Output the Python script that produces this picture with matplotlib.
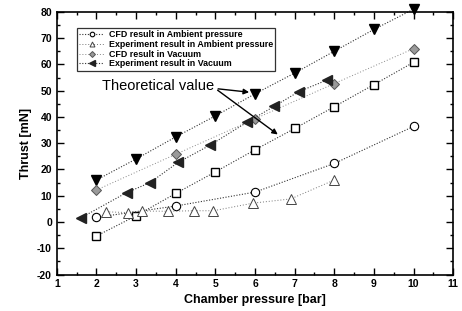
import matplotlib
matplotlib.use('Agg')
import matplotlib.pyplot as plt
from matplotlib.ticker import MultipleLocator

# Chamber pressure [bar] and thrust [mN]
p_theory = [2, 3, 4, 5, 6, 7, 8, 9, 10]
thr_theory_vac = [16, 24, 32.4, 40.4, 48.8, 56.7, 65.0, 73.3, 81.0]
thr_theory_amb = [-5.3, 2.4, 10.9, 19.1, 27.5, 35.6, 43.9, 52.3, 60.8]

p_cfd_amb = [2, 4, 6, 8, 10]
thr_cfd_amb = [1.8, 6.1, 11.4, 22.3, 36.4]

p_exp_amb = [2.25, 2.8, 3.15, 3.8, 4.45, 4.95, 5.95, 6.9, 8.0]
thr_exp_amb = [3.9, 3.6, 4.2, 4.1, 4.3, 4.3, 7.2, 8.8, 16.0]

p_cfd_vac = [2, 4, 6, 8, 10]
thr_cfd_vac = [12.2, 25.8, 39.3, 52.7, 66.0]

p_exp_vac = [1.62, 2.76, 3.35, 4.06, 4.87, 5.8, 6.48, 7.1, 7.81]
thr_exp_vac = [1.7, 11.2, 15.0, 22.7, 29.3, 38.0, 44.0, 49.6, 54.0]

plt.rcParams['font.family'] = ['Liberation Sans', 'DejaVu Sans']
plt.rcParams['axes.unicode_minus'] = False

fig = plt.figure(figsize=(4.62, 3.11), dpi=100)
ax = fig.add_axes([0.123, 0.117, 0.858, 0.845])

line_kw = dict(linestyle=(0, (1, 1.5)), linewidth=0.8, color='#333333')

ax.plot(p_theory, thr_theory_vac, marker='v', markersize=7, markerfacecolor='black',
        markeredgecolor='black', clip_on=False, **line_kw)
ax.plot(p_theory, thr_theory_amb, marker='s', markersize=5.5, markerfacecolor='white',
        markeredgecolor='black', markeredgewidth=1.0, **line_kw)
ax.plot(p_cfd_amb, thr_cfd_amb, marker='o', markersize=6, markerfacecolor='white',
        markeredgecolor='black', markeredgewidth=0.8, label='CFD result in Ambient pressure', **line_kw)
ax.plot(p_exp_amb, thr_exp_amb, marker='^', markersize=6.5, markerfacecolor='white',
        markeredgecolor='#444444', markeredgewidth=0.7, label='Experiment result in Ambient pressure',
        linestyle=(0, (1, 2)), linewidth=0.7, color='#777777')
ax.plot(p_cfd_vac, thr_cfd_vac, marker='D', markersize=5.5, markerfacecolor='#9a9a9a',
        markeredgecolor='#555555', markeredgewidth=0.7, label='CFD result in Vacuum',
        linestyle=(0, (1, 2)), linewidth=0.7, color='#888888')
ax.plot(p_exp_vac, thr_exp_vac, marker='<', markersize=7, markerfacecolor='#222222',
        markeredgecolor='#222222', label='Experiment result in Vacuum', **line_kw)

ax.set_xlim(1, 11)
ax.set_ylim(-20, 80)
ax.xaxis.set_major_locator(MultipleLocator(1))
ax.xaxis.set_minor_locator(MultipleLocator(0.5))
ax.yaxis.set_major_locator(MultipleLocator(10))
ax.yaxis.set_minor_locator(MultipleLocator(5))
ax.tick_params(which='both', direction='in', top=True, right=True, labelsize=7.5, width=1.0)
ax.tick_params(which='major', length=5)
ax.tick_params(which='minor', length=2.5)
for lab in ax.get_xticklabels() + ax.get_yticklabels():
    lab.set_fontweight('bold')
for sp in ax.spines.values():
    sp.set_linewidth(1.2)

ax.set_xlabel('Chamber pressure [bar]', fontsize=9, fontweight='bold', labelpad=3)
ax.set_ylabel('Thrust [mN]', fontsize=9, fontweight='bold', labelpad=4)

leg = ax.legend(loc='upper left', bbox_to_anchor=(0.04, 0.955), fontsize=6.4, frameon=True,
                fancybox=False, edgecolor='black', handlelength=2.8, handletextpad=0.5,
                borderpad=0.25, labelspacing=0.08, markerscale=0.55)
leg.get_frame().set_linewidth(0.9)
for t in leg.get_texts():
    t.set_fontweight('bold')

ax.text(2.15, 51.7, 'Theoretical value', fontsize=10.5, va='center', ha='left')
ax.annotate('', xy=(5.92, 49.3), xytext=(5.0, 50.8),
            arrowprops=dict(arrowstyle='-|>', color='black', lw=1.0, mutation_scale=8))
ax.annotate('', xy=(6.63, 32.7), xytext=(5.0, 50.8),
            arrowprops=dict(arrowstyle='-|>', color='black', lw=1.0, mutation_scale=8))

fig.savefig('out.png', dpi=100)
plt.close(fig)
